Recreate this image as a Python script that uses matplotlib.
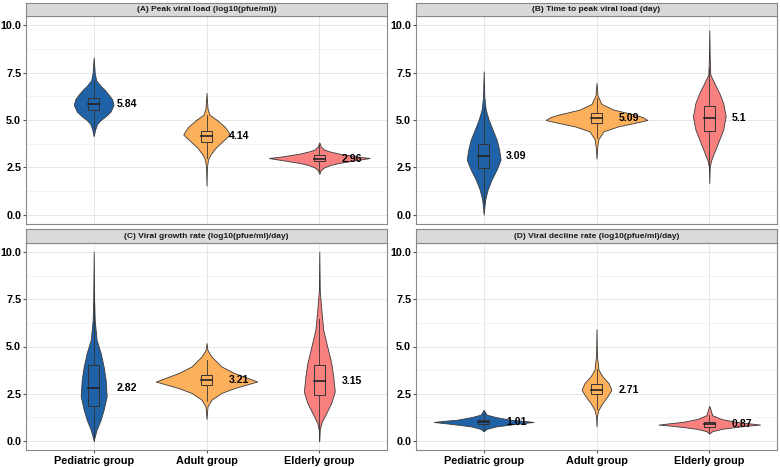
import matplotlib
matplotlib.use('Agg')
import matplotlib.pyplot as plt
from matplotlib.patches import Rectangle
from matplotlib.ticker import MultipleLocator

plt.rcParams['font.family'] = ['Liberation Sans', 'DejaVu Sans']

groups = ['Pediatric group', 'Adult group', 'Elderly group']
colors = ['#1F62A8', '#FDB05C', '#F8807F']
titles = ['(A) Peak viral load (log10(pfue/ml))',
          '(B) Time to peak viral load (day)',
          '(C) Viral growth rate (log10(pfue/ml)/day)',
          '(D) Viral decline rate (log10(pfue/ml)/day)']

# box stats per panel, per group
medians = [[5.84, 4.14, 2.96], [3.09, 5.09, 5.1], [2.82, 3.21, 3.15], [1.01, 2.71, 0.87]]
q1 = [[5.51, 3.83, 2.82], [2.47, 4.84, 4.44], [1.82, 2.93, 2.40], [0.88, 2.47, 0.73]]
q3 = [[6.16, 4.40, 3.17], [3.75, 5.37, 5.76], [4.03, 3.46, 4.03], [1.11, 3.00, 0.99]]
whisk_lo = [[4.54, 2.97, 2.30], [0.55, 4.05, 2.46], [0.00, 2.13, 0.00], [0.54, 1.68, 0.40]]
whisk_hi = [[7.14, 5.26, 3.70], [5.67, 6.16, 7.74], [7.34, 4.26, 6.48], [1.45, 3.80, 1.38]]

# violin outlines: y values and half widths (x units)
vy_A = [[4.14, 4.5, 4.8, 5.0, 5.2, 5.45, 5.8, 6.1, 6.35, 6.6, 6.8, 7.1, 7.5, 8.31],
        [1.53, 2.5, 2.9, 3.17, 3.52, 3.87, 4.23, 4.45, 4.66, 5.02, 5.28, 5.6, 6.43],
        [2.15, 2.35, 2.5, 2.62, 2.73, 2.87, 2.99, 3.08, 3.22, 3.33, 3.43, 3.6, 3.82]]
vw_A = [[0, .013, .031, .062, .106, .15, .176, .163, .132, .097, .062, .022, .009, 0],
        [0, .004, .013, .035, .079, .141, .206, .185, .159, .088, .026, .009, 0],
        [0, .013, .044, .097, .176, .323, .447, .323, .176, .097, .044, .013, 0]]

vy_B = [[0, 0.79, 1.32, 1.85, 2.38, 2.9, 3.43, 3.96, 4.49, 5.02, 5.55, 6.2, 7.57],
        [2.96, 3.6, 4.0, 4.4, 4.66, 4.85, 5.0, 5.15, 5.28, 5.55, 5.85, 6.3, 6.96],
        [1.67, 2.55, 2.9, 3.43, 3.96, 4.49, 5.19, 5.9, 6.43, 6.96, 7.4, 8.2, 9.74]]
vw_B = [[0, .013, .035, .07, .115, .15, .137, .115, .079, .044, .018, .006, 0],
        [0, .007, .018, .062, .19, .34, .45, .41, .34, .15, .044, .009, 0],
        [0, .004, .018, .053, .088, .123, .145, .123, .088, .044, .009, .004, 0]]

vy_C = [[0, 0.58, 1.11, 1.64, 2.35, 3.23, 3.94, 4.65, 5.35, 6.41, 7.5, 10.03],
        [1.15, 1.82, 2.17, 2.53, 2.79, 3.14, 3.59, 3.94, 4.47, 4.8, 5.18],
        [0, 0.58, 0.94, 1.47, 2.0, 2.61, 3.41, 4.12, 5.0, 5.88, 6.94, 8.0, 10.03]]
vw_C = [[0, .026, .062, .088, .115, .106, .088, .062, .026, .009, .004, 0],
        [0, .009, .044, .132, .247, .45, .247, .132, .044, .009, 0],
        [0, .004, .018, .062, .106, .137, .123, .106, .07, .035, .018, .004, 0]]

vy_D = [[0.49, 0.62, 0.75, 0.85, 0.93, 0.99, 1.05, 1.11, 1.25, 1.38, 1.64],
        [0.76, 1.29, 1.64, 2.0, 2.35, 2.7, 3.06, 3.41, 3.76, 4.5, 5.92],
        [0.37, 0.5, 0.62, 0.72, 0.8, 0.85, 0.92, 1.0, 1.15, 1.35, 1.85]]
vw_D = [[0, .026, .106, .235, .352, .443, .352, .235, .106, .026, 0],
        [0, .004, .018, .053, .097, .132, .106, .053, .018, .004, 0],
        [0, .026, .106, .229, .352, .45, .352, .229, .106, .026, 0]]

vys = [vy_A, vy_B, vy_C, vy_D]
vws = [vw_A, vw_B, vw_C, vw_D]

fig = plt.figure(figsize=(7.8, 4.67), dpi=100)

W, H = 780.0, 467.0
lefts = [26, 416, 26, 416]
tops = [16, 16, 243, 243]
bots = [224, 224, 450, 450]
strip_h = [13, 13, 14, 14]
pw = 361

for p in range(4):
    ax = fig.add_axes([lefts[p] / W, 1 - bots[p] / H, pw / W, (bots[p] - tops[p]) / H])
    ax.set_xlim(0.4, 3.6)
    ax.set_ylim(-0.5, 10.5)
    ax.set_xticks([1, 2, 3])
    ax.yaxis.set_major_locator(MultipleLocator(2.5))
    ax.yaxis.set_minor_locator(MultipleLocator(1.25))
    ax.set_yticks([0, 2.5, 5, 7.5, 10])
    ax.set_yticklabels(['%.1f' % v for v in [0, 2.5, 5, 7.5, 10]],
                       fontsize=7.8, fontweight='bold')
    ax.grid(True, which='major', color='#E6E6E6', lw=0.7)
    ax.grid(True, which='minor', axis='y', color='#EEEEEE', lw=0.5)
    ax.set_axisbelow(True)
    for s in ax.spines.values():
        s.set_color('#888888')
        s.set_linewidth(0.8)
    ax.tick_params(axis='both', which='major', length=2.5, color='#555555', pad=1)
    ax.tick_params(axis='y', which='minor', length=0)
    if p >= 2:
        ax.set_xticklabels(groups, fontsize=7.8, fontweight='bold')
        ax.tick_params(axis='x', pad=2)
    else:
        ax.tick_params(axis='x', length=0, labelbottom=False)

    for g in range(3):
        x = g + 1
        ys = vys[p][g]
        hw = vws[p][g]
        ax.fill_betweenx(ys, [x - w for w in hw], [x + w for w in hw],
                         facecolor=colors[g], edgecolor='#3A3A3A', lw=0.6, zorder=2)
        ax.plot([x, x], [whisk_lo[p][g], whisk_hi[p][g]], color='#333333', lw=0.6, zorder=3)
        ax.add_patch(Rectangle((x - 0.05, q1[p][g]), 0.1, q3[p][g] - q1[p][g],
                               facecolor=colors[g], edgecolor='#333333', lw=0.7, zorder=4))
        ax.plot([x - 0.05, x + 0.05], [medians[p][g]] * 2, color='#222222', lw=1.2, zorder=5)
        ax.text(x + 0.2, medians[p][g], str(medians[p][g]), fontsize=7.6,
                fontweight='bold', ha='left', va='center', zorder=6)

    sax = fig.add_axes([lefts[p] / W, 1 - tops[p] / H, pw / W, strip_h[p] / H])
    sax.set_facecolor('#D9D9D9')
    sax.set_xticks([])
    sax.set_yticks([])
    for s in sax.spines.values():
        s.set_color('#888888')
        s.set_linewidth(0.8)
    sax.text(0.5, 0.5, titles[p], ha='center', va='center', fontsize=6,
             fontweight='bold', color='#1A1A1A', transform=sax.transAxes)

fig.savefig('out.png', dpi=100)
